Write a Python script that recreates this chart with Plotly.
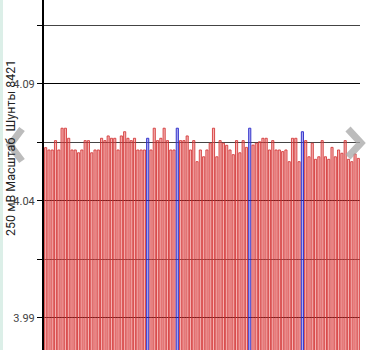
import plotly.graph_objects as go

# ---- data ----
bar_index = list(range(96))
values = [
    4.0628, 4.0618, 4.0618, 4.0658, 4.0618, 4.0711, 4.0711, 4.0668, 4.0618, 4.0618,
    4.0606, 4.0618, 4.0658, 4.0658, 4.0606, 4.0618, 4.0618, 4.0668, 4.0658, 4.0678,
    4.0668, 4.0668, 4.0618, 4.0678, 4.0696, 4.0668, 4.0658, 4.0668, 4.0618, 4.0618,
    4.0618, 4.0668, 4.0618, 4.0711, 4.0658, 4.0668, 4.0711, 4.0658, 4.0618, 4.0618,
    4.0711, 4.0658, 4.0658, 4.0678, 4.0618, 4.0658, 4.0568, 4.0618, 4.0589, 4.0618,
    4.0647, 4.0711, 4.0589, 4.0658, 4.0647, 4.0638, 4.0618, 4.0598, 4.0658, 4.0606,
    4.0658, 4.0629, 4.0711, 4.0639, 4.0647, 4.0653, 4.0668, 4.0668, 4.0618, 4.0658,
    4.0618, 4.0618, 4.0611, 4.0618, 4.0568, 4.0668, 4.0668, 4.0568, 4.0696, 4.0658,
    4.0589, 4.0647, 4.0578, 4.0589, 4.0658, 4.0589, 4.0578, 4.0629, 4.0589, 4.0618,
    4.0604, 4.0658, 4.0578, 4.0568, 4.0601, 4.0582,
]
highlighted = [31, 40, 62, 78]
y_title = "250 мВ Масштаб\u00a0 Шунты 8421"

# ---- styling ----
W, H = 369, 350
ML, MR = 44, 9
PW = W - ML - MR

red_fill, red_line = "rgba(235,85,85,0.45)", "rgba(210,50,50,0.85)"
blue_fill, blue_line = "rgba(80,80,230,0.45)", "rgba(45,45,200,0.95)"
fills = [blue_fill if i in highlighted else red_fill for i in bar_index]
lines = [blue_line if i in highlighted else red_line for i in bar_index]

fig = go.Figure(go.Bar(
    x=bar_index, y=values,
    marker=dict(color=fills, line=dict(color=lines, width=1)),
    hoverinfo="skip",
))


def px(x, y):
    return (x - ML) / PW, (H - y) / H


def chevron(pts):
    p = [px(*q) for q in pts]
    return dict(type="path", xref="paper", yref="paper", layer="above",
                path=f"M{p[0][0]},{p[0][1]} L{p[1][0]},{p[1][1]} L{p[2][0]},{p[2][1]}",
                line=dict(color="rgba(165,165,165,0.75)", width=7))


shapes = [
    dict(type="rect", xref="paper", yref="paper", layer="below",
         x0=px(0, 0)[0], x1=px(3, 0)[0], y0=0, y1=1,
         fillcolor="#dcefe8", line=dict(width=0)),
    chevron([(22, 129), (10, 145), (22, 161)]),
    chevron([(348, 129), (361, 143), (348, 157)]),
]

fig.update_layout(
    width=W, height=H,
    margin=dict(l=ML, r=MR, t=0, b=0),
    paper_bgcolor="white", plot_bgcolor="white",
    bargap=0.35,
    showlegend=False,
    shapes=shapes,
    font=dict(family="Roboto, Arial, sans-serif", color="#333"),
    annotations=[dict(
        text=y_title, textangle=-90, showarrow=False,
        xref="paper", yref="paper",
        x=px(10, 0)[0], y=px(0, 148)[1],
        xanchor="center", yanchor="middle",
        font=dict(size=12.5, color="#222", family="Roboto, Arial, sans-serif"),
    )],
)

fig.update_xaxes(
    range=[-0.5, len(values) - 0.5],
    showticklabels=False, showgrid=False, zeroline=False, showline=False, ticks="",
)

fig.update_yaxes(
    range=[3.9763, 4.1259],
    tick0=3.99, dtick=0.05, tickformat=".2f",
    showline=True, linecolor="black", linewidth=2,
    ticks="outside", ticklen=5, tickcolor="black", tickwidth=1,
    showgrid=True, gridcolor="black", gridwidth=1.3,
    zeroline=False,
    tickfont=dict(size=11, color="#444"),
    minor=dict(tick0=3.99, dtick=0.025, ticks="outside", ticklen=5,
               tickcolor="black", showgrid=True, gridcolor="#444", gridwidth=1),
)

fig.write_html("out.html")
